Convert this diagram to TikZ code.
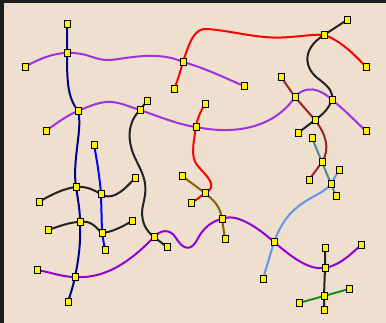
\documentclass[tikz,border=0pt]{standalone}
\usetikzlibrary{backgrounds,shadows}
\definecolor{bgc}{HTML}{EEDFCE}
\definecolor{frame}{HTML}{1E1E1E}
\definecolor{purpA}{HTML}{A030E0}
\definecolor{purpB}{HTML}{9400D3}
\definecolor{navyc}{HTML}{00008B}
\definecolor{redc}{HTML}{FF0000}
\definecolor{darkc}{HTML}{222222}
\definecolor{brownc}{HTML}{9B2525}
\definecolor{tealc}{HTML}{4E8A96}
\definecolor{cornc}{HTML}{6495ED}
\definecolor{bluec}{HTML}{0000FF}
\definecolor{olivec}{HTML}{806600}
\definecolor{greenc}{HTML}{228B22}
\tikzset{
  nd/.style={rectangle, fill=yellow, draw=black, line width=0.8pt, minimum size=6.2pt, inner sep=0pt,
     drop shadow={shadow xshift=0.8pt, shadow yshift=-0.8pt, fill=black!60, opacity=0.6}},
  ln/.style={line width=2pt, line cap=round, line join=round}
}
\begin{document}
\begin{tikzpicture}[x=1pt,y=-1pt]
\useasboundingbox (0,0) rectangle (386,323);
% nodes
\node[nd] (a1) at (67,24) {};
\node[nd] (a2) at (67,53) {};
\node[nd] (p1) at (25,67) {};
\node[nd] (r1) at (183,62) {};
\node[nd] (r0) at (174,89) {};
\node[nd] (b1) at (78,111) {};
\node[nd] (p2) at (46,131) {};
\node[nd] (k1) at (147,101) {};
\node[nd] (k2) at (140,110) {};
\node[nd] (p3) at (196,127) {};
\node[nd] (u1) at (94,145) {};
\node[nd] (t1) at (347,20) {};
\node[nd] (t2) at (324,35) {};
\node[nd] (t3) at (366,67) {};
\node[nd] (pe) at (244,86) {};
\node[nd] (m1) at (281,77) {};
\node[nd] (m2) at (295,97) {};
\node[nd] (m3) at (332,100) {};
\node[nd] (m4) at (315,120) {};
\node[nd] (m5) at (298,133) {};
\node[nd] (p4) at (366,131) {};
\node[nd] (r5) at (205,104) {};
\node[nd] (s1) at (312,138) {};
\node[nd] (s2) at (322,162) {};
\node[nd] (c1) at (339,170) {};
\node[nd] (d1) at (309,180) {};
\node[nd] (s3) at (331,184) {};
\node[nd] (s4) at (336,196) {};
\node[nd] (l1) at (76,187) {};
\node[nd] (l0) at (39,202) {};
\node[nd] (l2) at (101,194) {};
\node[nd] (l3) at (135,178) {};
\node[nd] (l4) at (80,222) {};
\node[nd] (l5) at (48,230) {};
\node[nd] (l6) at (102,233) {};
\node[nd] (l7) at (132,221) {};
\node[nd] (u4) at (105,250) {};
\node[nd] (k3) at (154,237) {};
\node[nd] (k4) at (167,247) {};
\node[nd] (q0) at (37,270) {};
\node[nd] (q1) at (75,277) {};
\node[nd] (a7) at (68,302) {};
\node[nd] (o1) at (182,176) {};
\node[nd] (o2) at (205,193) {};
\node[nd] (o3) at (191,203) {};
\node[nd] (o4) at (222,219) {};
\node[nd] (o5) at (225,239) {};
\node[nd] (q2) at (274,242) {};
\node[nd] (c3) at (263,279) {};
\node[nd] (g1) at (325,248) {};
\node[nd] (g2) at (325,268) {};
\node[nd] (q3) at (361,245) {};
\node[nd] (g3) at (324,296) {};
\node[nd] (g4) at (299,303) {};
\node[nd] (g5) at (349,289) {};
\node[nd] (g6) at (324,310) {};
\begin{pgfonlayer}{background}
\fill[bgc] (0,0) rectangle (386,323);
\fill[frame] (0,0) rectangle (4,323);
\fill[frame] (0,0) rectangle (386,3);
% navy
\draw[ln, navyc] (a1.center) -- (a2.center) .. controls (67,85) and (68,97) .. (b1.center)
  .. controls (83,128) and (72,160) .. (l1.center) .. controls (78,200) and (80,210) .. (l4.center)
  .. controls (81,245) and (78,262) .. (q1.center) .. controls (73,287) and (70,295) .. (a7.center);
% purple top
\draw[ln, purpA] (p1.center) .. controls (40,58) and (55,53) .. (a2.center)
  .. controls (88,52) and (95,61) .. (110,60) .. controls (125,59) and (157,50) .. (r1.center)
  .. controls (205,68) and (225,78) .. (pe.center);
% purple second
\draw[ln, purpA] (p2.center) .. controls (58,122) and (68,115) .. (b1.center)
  .. controls (92,105) and (102,101) .. (112,102) .. controls (122,103) and (130,107) .. (k2.center)
  .. controls (160,117) and (180,125) .. (p3.center)
  .. controls (240,136) and (276,125) .. (m2.center)
  .. controls (305,85) and (320,88) .. (m3.center)
  .. controls (345,110) and (355,121) .. (p4.center);
% red top
\draw[ln, redc] (r0.center) .. controls (178,80) and (180,72) .. (r1.center)
  .. controls (190,40) and (195,28) .. (207,29) .. controls (235,31) and (260,40) .. (290,37)
  .. controls (305,36) and (315,34) .. (t2.center) .. controls (340,40) and (355,55) .. (t3.center);
% red second
\draw[ln, redc] (r5.center) .. controls (200,112) and (197,120) .. (p3.center)
  .. controls (193,145) and (191,157) .. (197,165) .. controls (205,175) and (220,186) .. (o2.center)
  .. controls (200,197) and (195,201) .. (o3.center);
% black top right
\draw[ln, darkc] (t1.center) -- (t2.center) .. controls (300,50) and (305,70) .. (320,80)
  .. controls (330,88) and (333,92) .. (m3.center) .. controls (328,110) and (322,115) .. (m4.center) -- (m5.center);
% brown
\draw[ln, brownc] (m1.center) -- (m2.center) -- (m4.center) .. controls (325,133) and (331,148) .. (s2.center) -- (d1.center);
% teal
\draw[ln, tealc] (s1.center) -- (s2.center) -- (s3.center) -- (s4.center);
% cornflower
\draw[ln, cornc] (c1.center) -- (s3.center) .. controls (318,200) and (290,198) .. (q2.center) -- (c3.center);
% purple bottom
\draw[ln, purpB] (q0.center) .. controls (50,272) and (62,277) .. (q1.center)
  .. controls (105,279) and (130,262) .. (k3.center)
  .. controls (160,230) and (170,228) .. (176,238) .. controls (182,248) and (190,253) .. (197,240)
  .. controls (203,228) and (212,221) .. (o4.center)
  .. controls (235,213) and (255,225) .. (q2.center)
  .. controls (295,260) and (310,270) .. (g2.center) .. controls (340,265) and (350,255) .. (q3.center);
% black column
\draw[ln, darkc] (k1.center) -- (k2.center) .. controls (128,122) and (126,140) .. (136,160)
  .. controls (145,178) and (148,185) .. (143,205) .. controls (140,220) and (145,230) .. (k3.center) -- (k4.center);
% black left smalls
\draw[ln, darkc] (l0.center) .. controls (50,195) and (65,188) .. (l1.center)
  .. controls (88,186) and (95,191) .. (l2.center) .. controls (110,200) and (120,195) .. (l3.center);
\draw[ln, darkc] (l5.center) .. controls (60,226) and (70,222) .. (l4.center)
  .. controls (92,220) and (96,228) .. (l6.center) .. controls (112,232) and (122,227) .. (l7.center);
% blue
\draw[ln, bluec] (u1.center) .. controls (97,160) and (100,180) .. (l2.center) -- (l6.center) -- (u4.center);
% olive
\draw[ln, olivec] (o1.center) -- (o2.center) .. controls (213,200) and (220,205) .. (o4.center) -- (o5.center);
% black bottom right
\draw[ln, darkc] (g1.center) -- (g2.center) -- (g3.center) -- (g6.center);
% green
\draw[ln, greenc] (g4.center) -- (g3.center) -- (g5.center);
\end{pgfonlayer}
\end{tikzpicture}
\end{document}
